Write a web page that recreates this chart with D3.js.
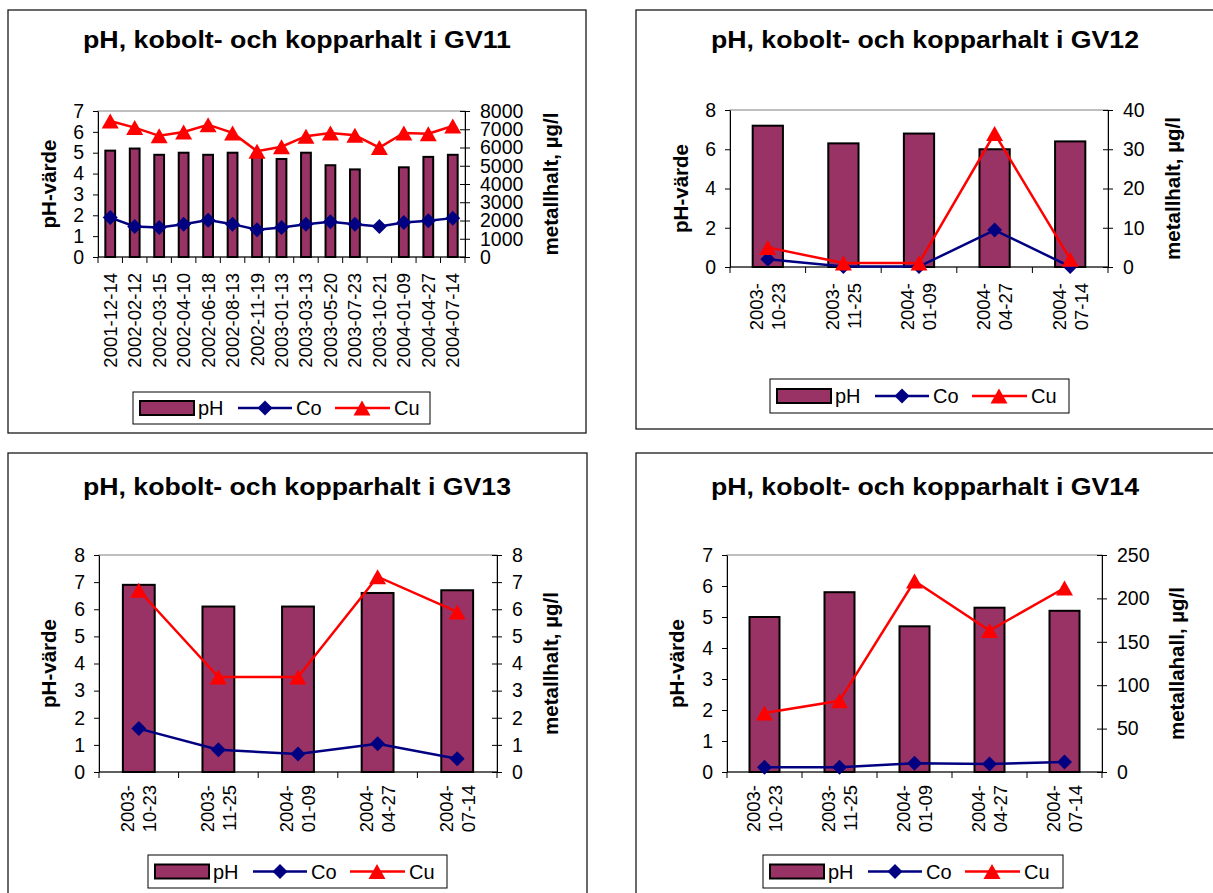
<!DOCTYPE html>
<html><head><meta charset="utf-8">
<script src="https://cdn.jsdelivr.net/npm/d3@7"></script>
<style>
body{margin:0;background:#fff}
svg{display:block}
text{font-family:"Liberation Sans",Arial,sans-serif;fill:#000}
</style>
</head><body>
<svg id="chart" width="1213" height="893"></svg>
<script>
// ---- data: GV11 ----
const datesGV11 = ["2001-12-14","2002-02-12","2002-03-15","2002-04-10","2002-06-18","2002-08-13","2002-11-19",
  "2003-01-13","2003-03-13","2003-05-20","2003-07-23","2003-10-21","2004-01-09","2004-04-27","2004-07-14"];
const phGV11 = [5.1,5.2,4.9,5.0,4.9,5.0,4.9,4.7,5.0,4.4,4.2,null,4.3,4.8,4.9];
const coGV11 = [2160,1670,1620,1800,2020,1800,1490,1620,1800,1930,1800,1670,1890,1980,2130];
const cuGV11 = [7450,7090,6640,6850,7250,6800,5800,6040,6620,6800,6670,6000,6800,6760,7180];
const phTicksGV11 = [0,1,2,3,4,5,6,7];
const metalTicksGV11 = [0,1000,2000,3000,4000,5000,6000,7000,8000];

// ---- data: GV12, GV13, GV14 (same sampling dates) ----
const datesLate = ["2003-10-23","2003-11-25","2004-01-09","2004-04-27","2004-07-14"];

const phGV12 = [7.2,6.3,6.8,6.0,6.4];
const coGV12 = [2.0,0.1,0.1,9.4,0.1];
const cuGV12 = [5,1,1,34,2];
const phTicksGV12 = [0,2,4,6,8];
const metalTicksGV12 = [0,10,20,30,40];

const phGV13 = [6.9,6.1,6.1,6.6,6.7];
const coGV13 = [1.6,0.82,0.66,1.04,0.49];
const cuGV13 = [6.7,3.5,3.5,7.2,5.9];
const phTicksGV13 = [0,1,2,3,4,5,6,7,8];
const metalTicksGV13 = [0,1,2,3,4,5,6,7,8];

const phGV14 = [5.0,5.8,4.7,5.3,5.2];
const coGV14 = [5.4,5.4,10,9.2,11.5];
const cuGV14 = [68,82,220,163,212];
const phTicksGV14 = [0,1,2,3,4,5,6,7];
const metalTicksGV14 = [0,50,100,150,200,250];

// ---- text ----
const titles = ["pH, kobolt- och kopparhalt i GV11","pH, kobolt- och kopparhalt i GV12",
  "pH, kobolt- och kopparhalt i GV13","pH, kobolt- och kopparhalt i GV14"];
const leftAxisTitle = "pH-värde";
const rightAxisTitles = ["metallhalt, µg/l","metallhalt, µg/l","metallhalt, µg/l","metallahall, µg/l"];
const legendLabels = ["pH","Co","Cu"];

// ---- styling ----
const BAR_FILL = "#993366", CO_COLOR = "#000080", CU_COLOR = "#ff0000";

const panels = [
  {dates: datesGV11, ph: phGV11, co: coGV11, cu: cuGV11, phTicks: phTicksGV11, metalTicks: metalTicksGV11,
   title: titles[0], rightTitle: rightAxisTitles[0], twoLine: false,
   frame: [8,10,578,423], titleX: 297, titleY: 48,
   plot: {l: 98, r: 465, t: 111, b: 257}, labelGap: 16,
   leftTitleX: 49, rightTitleX: 551, legend: [133,392,297,32]},
  {dates: datesLate, ph: phGV12, co: coGV12, cu: cuGV12, phTicks: phTicksGV12, metalTicks: metalTicksGV12,
   title: titles[1], rightTitle: rightAxisTitles[1], twoLine: true,
   frame: [636,10,620,419], titleX: 925, titleY: 48,
   plot: {l: 730, r: 1108, t: 110, b: 267}, labelGap: 16,
   leftTitleX: 681, rightTitleX: 1173, legend: [770,379,299,34]},
  {dates: datesLate, ph: phGV13, co: coGV13, cu: cuGV13, phTicks: phTicksGV13, metalTicks: metalTicksGV13,
   title: titles[2], rightTitle: rightAxisTitles[2], twoLine: true,
   frame: [8,453,579,470], titleX: 297, titleY: 495,
   plot: {l: 99, r: 497, t: 555, b: 772}, labelGap: 13,
   leftTitleX: 49, rightTitleX: 551, legend: [148,855,299,33]},
  {dates: datesLate, ph: phGV14, co: coGV14, cu: cuGV14, phTicks: phTicksGV14, metalTicks: metalTicksGV14,
   title: titles[3], rightTitle: rightAxisTitles[3], twoLine: true,
   frame: [636,453,620,470], titleX: 925, titleY: 495,
   plot: {l: 727, r: 1102, t: 555, b: 772}, labelGap: 13,
   leftTitleX: 677, rightTitleX: 1177, legend: [763,855,300,33]}
];

const svg = d3.select("#chart");

function diamondPath(cx, cy, r) {
  return `M${cx},${cy - r}L${cx + r},${cy}L${cx},${cy + r}L${cx - r},${cy}Z`;
}
function trianglePath(cx, cy, w, h) {
  return `M${cx},${cy - h / 2}L${cx + w / 2},${cy + h / 2}L${cx - w / 2},${cy + h / 2}Z`;
}

function drawPanel(p) {
  const g = svg.append("g");
  const P = p.plot;

  g.append("rect").attr("x", p.frame[0]).attr("y", p.frame[1])
    .attr("width", p.frame[2]).attr("height", p.frame[3])
    .attr("fill", "none").attr("stroke", "#1a1a1a").attr("stroke-width", 1.3);

  // chart title, slightly widened like the original typesetting
  g.append("text").attr("x", p.titleX).attr("y", p.titleY)
    .attr("text-anchor", "middle").attr("font-weight", "bold").attr("font-size", 23)
    .attr("textLength", 428).attr("lengthAdjust", "spacingAndGlyphs")
    .text(p.title);

  // category slots and scales
  const slot = d3.scaleBand().domain(p.dates).range([P.l, P.r]).padding(0);
  const bar = d3.scaleBand().domain(p.dates).range([P.l, P.r]).paddingInner(0.6).paddingOuter(0.3);
  const yL = d3.scaleLinear().domain([0, d3.max(p.phTicks)]).range([P.b, P.t]);
  const yR = d3.scaleLinear().domain([0, d3.max(p.metalTicks)]).range([P.b, P.t]);
  const cx = d => slot(d) + slot.bandwidth() / 2;

  // plot area border
  g.append("rect").attr("x", P.l).attr("y", P.t).attr("width", P.r - P.l).attr("height", P.b - P.t)
    .attr("fill", "none").attr("stroke", "#808080").attr("stroke-width", 1);

  // bars
  g.append("g").selectAll("rect")
    .data(p.dates.map((d, i) => ({d, v: p.ph[i]})).filter(o => o.v != null))
    .join("rect")
    .attr("x", o => bar(o.d)).attr("width", bar.bandwidth())
    .attr("y", o => yL(o.v)).attr("height", o => yL(0) - yL(o.v))
    .attr("fill", BAR_FILL).attr("stroke", "#000").attr("stroke-width", 2);

  // left axis
  const axL = g.append("g").attr("transform", `translate(${P.l},0)`)
    .call(d3.axisLeft(yL).tickValues(p.phTicks).tickFormat(d3.format("d"))
      .tickSizeInner(5).tickSizeOuter(0).tickPadding(9));
  // right axis (ticks crossing the axis line)
  const axR = g.append("g").attr("transform", `translate(${P.r},0)`)
    .call(d3.axisRight(yR).tickValues(p.metalTicks).tickFormat(d3.format("d"))
      .tickSizeInner(5).tickSizeOuter(0).tickPadding(10));
  axR.selectAll(".tick").append("line").attr("x2", -5).attr("stroke", "#000");
  [axL, axR].forEach(ax => {
    ax.attr("font-size", null).attr("font-family", null);
    ax.selectAll("text").attr("font-size", 19.5);
    ax.selectAll("line").attr("stroke", "#000");
    ax.select(".domain").attr("stroke", "#000");
  });

  // x axis: line + boundary ticks
  const xa = g.append("g").attr("transform", `translate(0,${P.b})`);
  xa.append("line").attr("x1", P.l).attr("x2", P.r).attr("stroke", "#000");
  const bounds = p.dates.map(d => slot(d)).concat([slot(p.dates[p.dates.length - 1]) + slot.bandwidth()]);
  xa.selectAll("line.b").data(bounds).join("line").attr("class", "b")
    .attr("x1", d => d).attr("x2", d => d).attr("y1", 0).attr("y2", 6).attr("stroke", "#000");

  // rotated date labels
  const lab = g.append("g").selectAll("text").data(p.dates).join("text")
    .attr("transform", d => `translate(${cx(d)},${P.b + p.labelGap}) rotate(-90)`)
    .attr("text-anchor", "end").attr("font-size", 18.5);
  if (p.twoLine) {
    lab.each(function(d) {
      const t = d3.select(this);
      const parts = [d.slice(0, 5), d.slice(5)];
      t.append("tspan").attr("x", 0).attr("y", -11).attr("dy", "0.35em").text(parts[0]);
      t.append("tspan").attr("x", 0).attr("y", 11).attr("dy", "0.35em").text(parts[1]);
    });
  } else {
    lab.attr("dy", "0.35em").text(d => d);
  }

  // axis titles
  const midY = (P.t + P.b) / 2;
  g.append("text").attr("transform", `translate(${p.leftTitleX},${midY}) rotate(-90)`)
    .attr("text-anchor", "middle").attr("dy", "0.35em").attr("font-weight", "bold").attr("font-size", 20.5)
    .text(leftAxisTitle);
  g.append("text").attr("transform", `translate(${p.rightTitleX},${midY}) rotate(-90)`)
    .attr("text-anchor", "middle").attr("dy", "0.35em").attr("font-weight", "bold").attr("font-size", 20.5)
    .text(p.rightTitle);

  // series lines
  const line = d3.line().defined(v => v != null).x((v, i) => cx(p.dates[i])).y(v => yR(v));
  g.append("path").datum(p.co).attr("d", line).attr("fill", "none")
    .attr("stroke", CO_COLOR).attr("stroke-width", 2.5);
  g.append("g").selectAll("path").data(p.co).join("path")
    .attr("d", (v, i) => diamondPath(cx(p.dates[i]), yR(v), 7.5)).attr("fill", CO_COLOR);
  g.append("path").datum(p.cu).attr("d", line).attr("fill", "none")
    .attr("stroke", CU_COLOR).attr("stroke-width", 2.5);
  g.append("g").selectAll("path").data(p.cu).join("path")
    .attr("d", (v, i) => trianglePath(cx(p.dates[i]), yR(v), 17, 15)).attr("fill", CU_COLOR);

  // legend
  const [lx, ly, lw, lh] = p.legend;
  const lg = g.append("g").attr("transform", `translate(${lx},${ly})`);
  lg.append("rect").attr("width", lw).attr("height", lh).attr("fill", "#fff")
    .attr("stroke", "#000").attr("stroke-width", 1);
  const my = lh / 2;
  lg.append("rect").attr("x", 7).attr("y", my - 7).attr("width", 54).attr("height", 14)
    .attr("fill", BAR_FILL).attr("stroke", "#000").attr("stroke-width", 2);
  lg.append("line").attr("x1", 105).attr("x2", 159).attr("y1", my).attr("y2", my)
    .attr("stroke", CO_COLOR).attr("stroke-width", 2.5);
  lg.append("path").attr("d", diamondPath(132, my, 7.5)).attr("fill", CO_COLOR);
  lg.append("line").attr("x1", 202).attr("x2", 257).attr("y1", my).attr("y2", my)
    .attr("stroke", CU_COLOR).attr("stroke-width", 2.5);
  lg.append("path").attr("d", trianglePath(229, my, 17, 15)).attr("fill", CU_COLOR);
  lg.selectAll("text.l").data(legendLabels).join("text").attr("class", "l")
    .attr("x", (d, i) => [65, 163, 261][i]).attr("y", my).attr("dy", "0.35em")
    .attr("font-size", 20).text(d => d);
}

panels.forEach(drawPanel);
</script>
</body></html>
